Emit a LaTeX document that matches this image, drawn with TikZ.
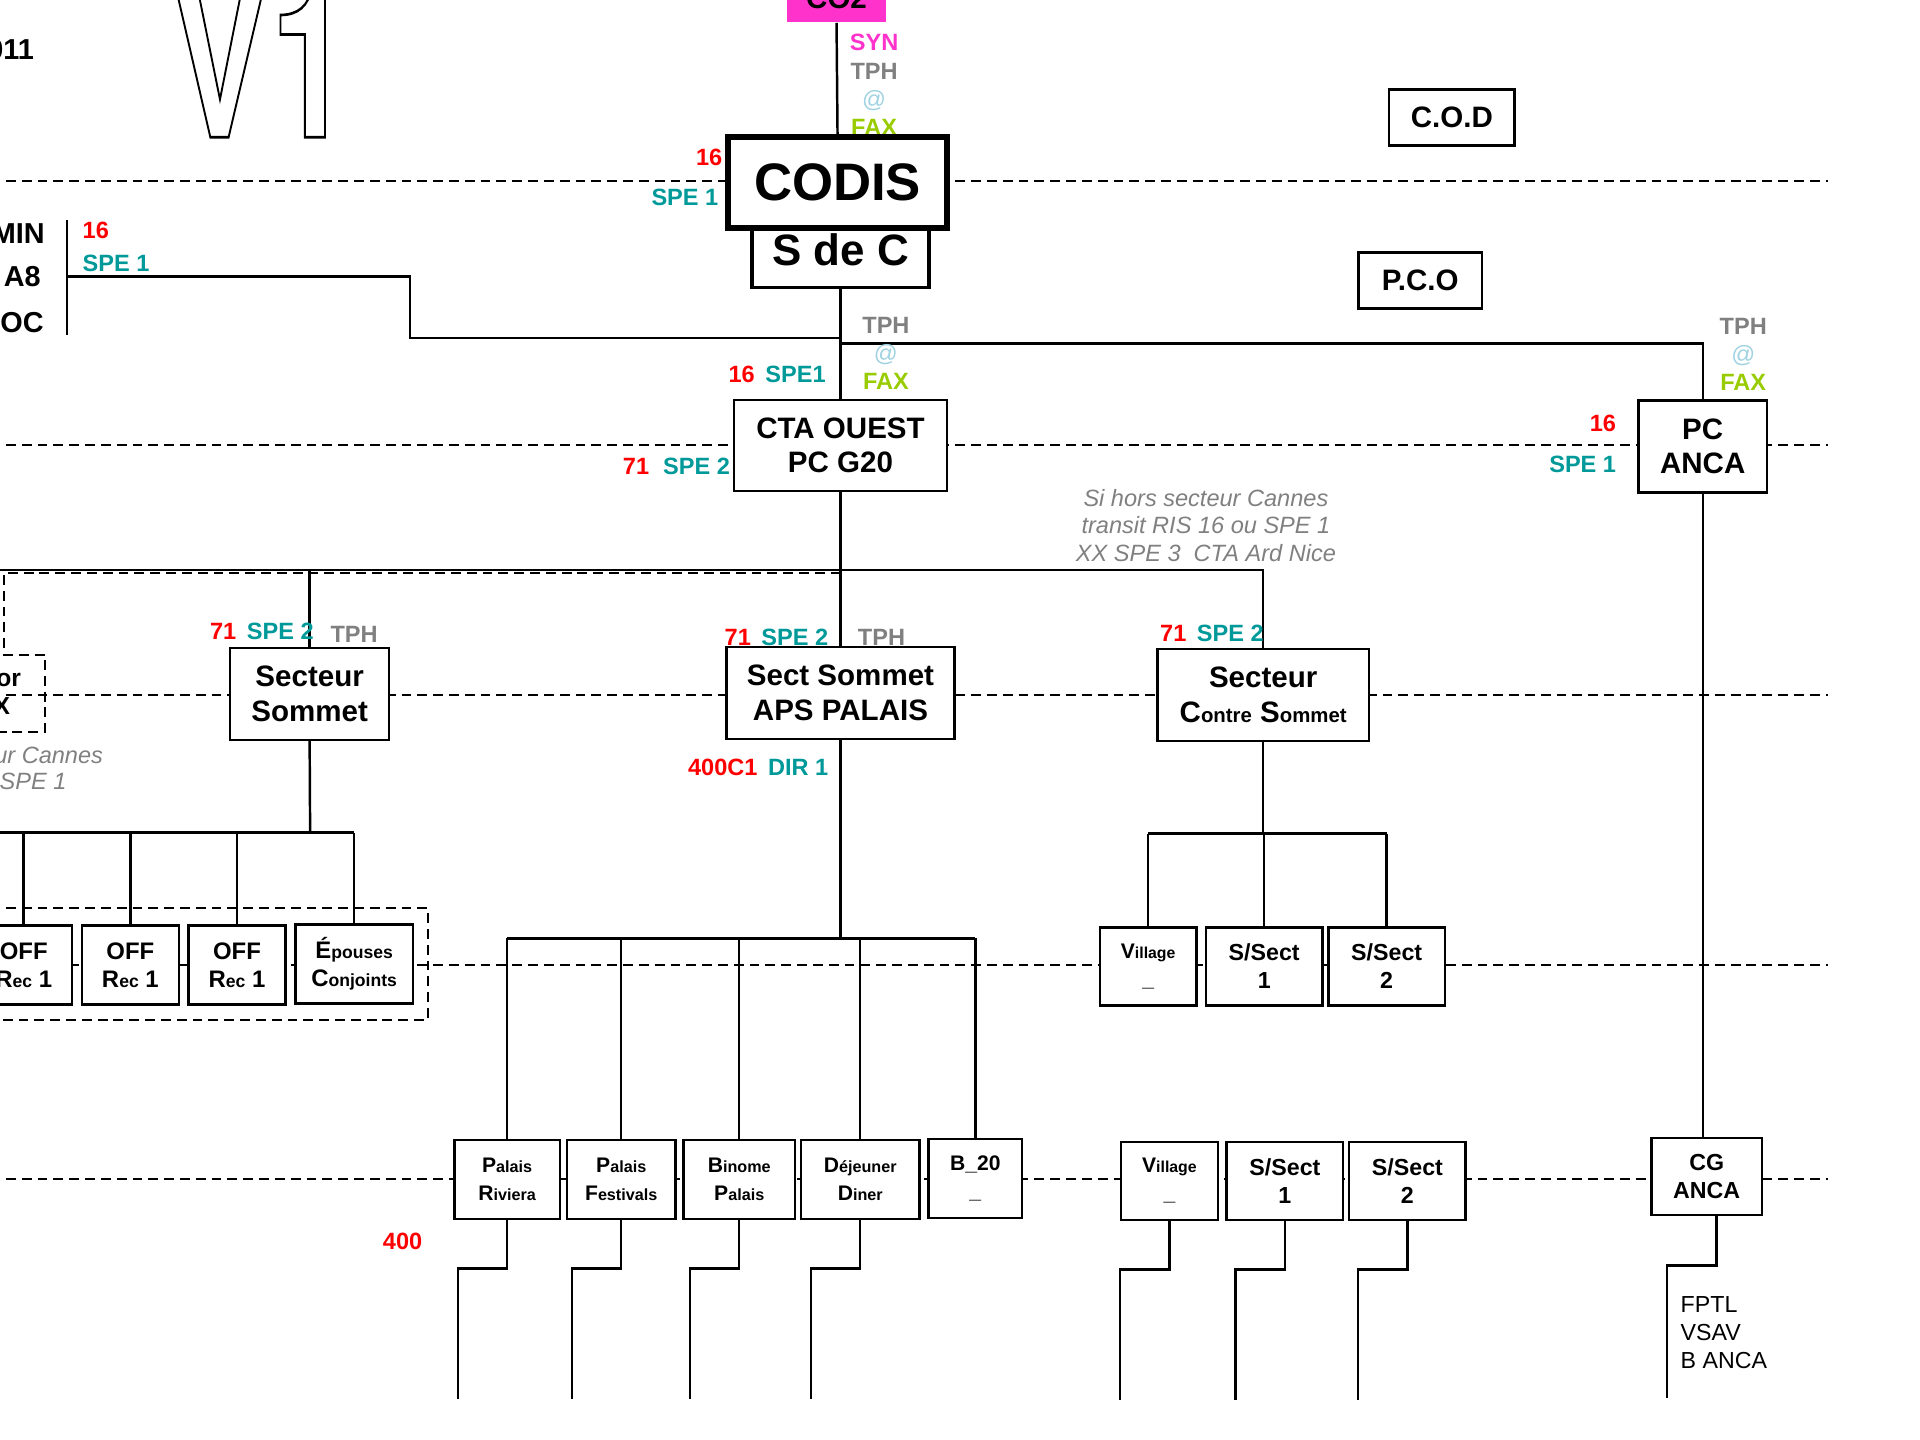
\documentclass[tikz,border=0pt]{standalone}
\usepackage{fontspec}
\setmainfont{Liberation Sans}
\newfontfamily\titre{TeX Gyre Heros}
\definecolor{rouge}{RGB}{255,0,0}
\definecolor{sarcelle}{RGB}{0,153,153}
\definecolor{gris}{RGB}{128,128,128}
\definecolor{ciel}{RGB}{160,210,225}
\definecolor{olive}{RGB}{153,204,0}
\definecolor{rose}{RGB}{255,51,204}
\newcommand{\upx}{0.009877cm}
\newcommand{\taille}[2]{\fontsize{#1}{#2}\selectfont}
\newcommand{\ini}[3][4.6]{#2{\taille{#1}{#1}#3}}
\newcommand{\enrouge}[1]{\textcolor{rouge}{#1}}
\newcommand{\envert}[1]{\textcolor{sarcelle}{#1}}
\newcommand{\engris}[1]{\textcolor{gris}{#1}}
\newcommand{\tphfax}{\engris{TPH}\\{\mdseries\textcolor{ciel}{@}}\\\textcolor{olive}{FAX}}
\newcommand{\creux}[1]{\special{pdf:literal direct 1 Tr 0.55 w}#1}

\begin{document}
\begin{tikzpicture}[x=\upx,y=-\upx,
  boite/.style={draw,line width=0.7pt,fill=white,inner sep=0pt,align=center,font=\bfseries\taille{8.4}{9.8}},
  dim/.style 2 args={minimum width=#1*\upx,minimum height=#2*\upx},
  lien/.style={line width=0.7pt},
  tirets/.style={line width=0.6pt,dash pattern=on 2.8pt off 1.7pt},
  lab/.style={inner sep=0pt,font=\bfseries\taille{6.7}{8}},
  note/.style={inner sep=0pt,text=gris,font=\itshape\taille{6.7}{7.8}},
  gros/.style={inner sep=0pt,font=\bfseries\taille{8.2}{10}},
  pti/.style={font=\bfseries\taille{6.8}{8}},
  mini/.style={font=\bfseries\taille{6}{8}}]
\useasboundingbox (0,0) rectangle (1944,1458);
% lignes de niveau
\foreach \h in {183.5,451,704,977,1194} \draw[tirets] (-10,\h) -- (1851,\h);
\draw[tirets] (851,580) -- (4,580) -- (4,663) -- (46,663) -- (46,741) -- (-10,741);
\draw[tirets] (-10,919) -- (433,919) -- (433,1033) -- (-10,1033);

% en-tete
\node[gros,anchor=east] (annee) at (35,50) {011};
\node[anchor=base west,inner sep=0pt,font=\titre\bfseries\taille{43}{43}] (version) at (173,139) {\scalebox{0.95}[1.39]{\creux{V\kern1pt 1}}};
\node[fill=rose,inner sep=0pt,dim={100}{48},font=\bfseries\taille{8.4}{10}] (co2) at (847,-1.5) {CO2};
\node[lab,align=center] (syn) at (885,86) {\textcolor{rose}{SYN}\\\tphfax};
\node[boite,dim={179}{76},font=\bfseries\taille{12.5}{14},line width=1pt] (sdec) at (851,253) {S de C};
\node[boite,dim={221}{92},font=\bfseries\taille{15}{17},line width=1.7pt] (codis) at (848,185) {CODIS};
\node[lab,anchor=east,text=rouge] (codisA) at (732,159) {16};
\node[lab,anchor=east,text=sarcelle] (codisB) at (728,200) {SPE 1};
\node[boite,dim={127}{57}] (cod) at (1470,119) {C.O.D};
\node[boite,dim={125}{57}] (pco) at (1438,284) {P.C.O};
\draw[lien] (co2.south) -- (codis.north);

% gauche
\node[gros,anchor=east] (min) at (46,237) {MIN};
\node[gros,anchor=east] (a8) at (42,280) {A8};
\node[gros,anchor=east] (oc) at (45,327) {OC};
\draw[lien] (68,223) -- (68,339);
\coordinate (gauche) at (68,280);
\node[lab,anchor=west,text=rouge] (gaucheA) at (83,233) {16};
\node[lab,anchor=west,text=sarcelle] (gaucheB) at (83,267) {SPE 1};

% niveau CTA
\node[boite,dim={216}{92}] (cta) at (851,451) {CTA OUEST\\PC G20};
\node[boite,dim={130}{93}] (pcanca) at (1724,452) {PC\\ANCA};
\coordinate (bA) at (415,342);
\coordinate (bB) at (851,348);
\draw[lien] (gauche) -| (bA) -- (bA -| sdec.south);
\draw[lien] (sdec.south) -- (cta.north);
\draw[lien] (bB) -| (pcanca.north);
\node[lab,align=center] (liaisonA) at (897,358) {\tphfax};
\node[lab,align=center] (liaisonB) at (1765,358.5) {\tphfax};
\node[lab,anchor=west] (ctaA) at (737,379) {\enrouge{16}\hspace{3pt}\envert{SPE1}};
\node[lab,anchor=west] (ctaB) at (630,472) {\enrouge{71}\hspace{4pt}\envert{SPE 2}};
\node[lab,anchor=east,text=rouge] (ancaA) at (1637,429) {16};
\node[lab,anchor=east,text=sarcelle] (ancaB) at (1637,470) {SPE 1};
\node[note,align=center] (hors) at (1221,532) {Si hors secteur Cannes\\transit RIS 16 ou SPE 1\\XX SPE 3\ \ CTA Ard Nice};

% secteurs
\node[boite,dim={161}{93}] (secsom) at (313.5,702.5) {Secteur\\Sommet};
\node[boite,dim={231}{93}] (aps) at (851,701.5) {Sect Sommet\\APS PALAIS};
\node[boite,dim={214}{93}] (contre) at (1279,703.5) {Secteur\\\ini[5.8]{C}{ontre} \ini[5.8]{S}{ommet}};
\coordinate (bC) at (851,577);
\coordinate (bL) at (-10,577);
\draw[lien] (cta.south) -- (aps.north);
\draw[lien] (bL) -- (bC -| contre.north) -- (contre.north);
\draw[lien] (secsom.north) -- (secsom.north |- bC);
\node[lab,anchor=west] (secsomA) at (212,639) {\enrouge{71}\hspace{3pt}\envert{SPE 2}};
\node[lab,anchor=west,text=gris] (secsomB) at (334,642) {TPH};
\node[lab,anchor=west] (apsA) at (733,645) {\enrouge{71}\hspace{3pt}\envert{SPE 2}};
\node[lab,anchor=west,text=gris] (apsB) at (868,645) {TPH};
\node[lab,anchor=west] (apsC) at (696,777) {\enrouge{400C1}\hspace{3pt}\envert{DIR 1}};
\node[lab,anchor=west] (contreA) at (1174,641) {\enrouge{71}\hspace{3pt}\envert{SPE 2}};
\node[gros,anchor=east,font=\bfseries\taille{7}{8}] (orA) at (22,688) {or};
\node[gros,anchor=east,font=\bfseries\taille{7}{8}] (orB) at (11,715) {X};
\node[note,anchor=east] (cannesA) at (105,765) {ur Cannes};
\node[note,anchor=east] (cannesB) at (68,791) {SPE 1};

% rang OFF
\node[boite,pti,dim={98}{80}] (off1) at (24,977) {OFF\\\ini[5]{R}{ec} 1};
\node[boite,pti,dim={98}{80}] (off2) at (132,977) {OFF\\\ini[5]{R}{ec} 1};
\node[boite,pti,dim={98}{80}] (off3) at (240,977) {OFF\\\ini[5]{R}{ec} 1};
\node[boite,pti,dim={119}{80}] (epou) at (358.5,976) {\ini[5]{É}{pouses}\\\ini[5]{C}{onjoints}};
\coordinate (bD) at (314,843);
\draw[lien] (secsom.south) -- (bD);
\draw[lien] (-10,843) -- (epou.north |- bD);
\foreach \n in {off1,off2,off3,epou} \draw[lien] (\n.north) -- (\n.north |- bD);

% rang Palais
\node[boite,mini,dim={107}{80}] (priv) at (513.5,1194) {\ini{P}{alais}\\\ini{R}{iviera}};
\node[boite,mini,dim={110}{80}] (pfes) at (629,1194) {\ini{P}{alais}\\\ini{F}{estivals}};
\node[boite,mini,dim={113}{80}] (bin) at (748.5,1194) {\ini{B}{inome}\\\ini{P}{alais}};
\node[boite,mini,dim={120}{80}] (dej) at (871,1194) {\ini{D}{éjeuner}\\\ini{D}{iner}};
\node[boite,mini,dim={95}{80}] (b20) at (987.5,1193) {B\_20\\\_};
\coordinate (bE) at (851,950);
\draw[lien] (aps.south) -- (bE);
\draw[lien] (priv.north |- bE) -- (b20.north |- bE);
\foreach \n in {priv,pfes,bin,dej,b20} \draw[lien] (\n.north) -- (\n.north |- bE);
\node[lab,anchor=west,text=rouge] (quatre) at (387,1257) {400};

% rang Contre Sommet
\node[boite,mini,dim={98}{79}] (vil1) at (1162.5,978.5) {\ini[4.5]{V}{illage}\\\_};
\node[boite,mini,dim={118}{79},font=\bfseries\taille{6.6}{8}] (ss11) at (1280,978.5) {S/Sect\\1};
\node[boite,mini,dim={118}{79},font=\bfseries\taille{6.6}{8}] (ss21) at (1404,978.5) {S/Sect\\2};
\coordinate (bF) at (1278,844);
\draw[lien] (contre.south) -- (contre.south |- bF);
\draw[lien] (vil1.north |- bF) -- (ss21.north |- bF);
\foreach \n in {vil1,ss11,ss21} \draw[lien] (\n.north) -- (\n.north |- bF);
\node[boite,mini,dim={98}{79}] (vil2) at (1184,1195.5) {\ini[4.5]{V}{illage}\\\_};
\node[boite,mini,dim={118}{79},font=\bfseries\taille{6.6}{8}] (ss12) at (1301,1195.5) {S/Sect\\1};
\node[boite,mini,dim={118}{79},font=\bfseries\taille{6.6}{8}] (ss22) at (1425,1195.5) {S/Sect\\2};
\foreach \n in {priv,pfes,bin,dej,vil2,ss12,ss22} \draw[lien] (\n.south) -- ++(0,49) -- ++(-50,0) -- ++(0,132);

% ANCA
\node[boite,dim={112}{78},font=\bfseries\taille{6.6}{8}] (cg) at (1728,1191) {CG\\ANCA};
\draw[lien] (pcanca.south) -- (pcanca.south |- cg.north);
\draw[lien] ([xshift=10*\upx]cg.south) -- ++(0,50) -- ++(-50,0) -- ++(0,134);
\node[anchor=west,inner sep=0pt,align=left,font=\taille{6.6}{7.9}] (moyens) at (1701,1349) {FPTL\\VSAV\\B ANCA};
\end{tikzpicture}
\end{document}
